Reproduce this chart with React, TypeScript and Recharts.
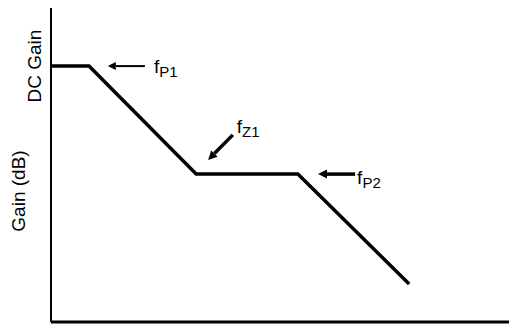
import { LineChart, Line, XAxis, YAxis, ReferenceLine } from "recharts";

// asymptotic Bode gain: x = log-frequency (arbitrary decades), y = gain (dB, arbitrary)
const freqPoints = [0, 0.83, 3.17, 5.39, 7.82];
const gainPoints = [81.5, 81.5, 47.1, 47.1, 12.1];
const DC_GAIN = 81.5;

// arrow annotations: tail -> head in chart units
const markerNames = ["P1", "Z1", "P2"];
const markerTail = [
  [2.05, 81.5],
  [3.97, 59.6],
  [6.64, 47.1],
];
const markerHead = [
  [1.24, 81.5],
  [3.43, 51.6],
  [5.83, 47.1],
];

const data = freqPoints.map((f, i) => ({ f, gain: gainPoints[i] }));

const FONT = "'Liberation Sans', Arial, sans-serif";

const labelOffset: Record<string, [number, number, number]> = {
  P1: [9, 7, 2],
  Z1: [4, -2, 3.5],
  P2: [2, 10, 3.5],
};

function Arrow(props: any) {
  const { x1, y1, x2, y2, name } = props;
  const [dx, dy, w] = labelOffset[name];
  const len = Math.hypot(x2 - x1, y2 - y1);
  const ux = (x2 - x1) / len;
  const uy = (y2 - y1) / len;
  const hl = w > 2 ? 9 : 8;
  const hw = w > 2 ? 4.5 : 4;
  const bx = x2 - ux * hl;
  const by = y2 - uy * hl;
  const pts = `${x2},${y2} ${bx - uy * hw},${by + ux * hw} ${bx + uy * hw},${by - ux * hw}`;
  return (
    <g>
      <line x1={x1} y1={y1} x2={bx} y2={by} stroke="#000" strokeWidth={w} />
      <polygon points={pts} fill="#000" />
      <text x={x1 + dx} y={y1 + dy} fontFamily={FONT} fontSize={19} fill="#000">
        <tspan>f</tspan>
        <tspan dy={4} fontSize={15}>
          {name}
        </tspan>
      </text>
    </g>
  );
}

function DcTick(props: any) {
  const { x, y } = props;
  return (
    <text
      x={x}
      y={y}
      transform={`rotate(-90, ${x}, ${y})`}
      textAnchor="middle"
      dominantBaseline="central"
      fontFamily={FONT}
      fontSize={19}
      fill="#000"
    >
      DC Gain
    </text>
  );
}

function GainLabel(props: any) {
  const { viewBox } = props;
  const x = viewBox.x + 18;
  const y = viewBox.y + 183;
  return (
    <text
      x={x}
      y={y}
      transform={`rotate(-90, ${x}, ${y})`}
      textAnchor="middle"
      dominantBaseline="central"
      fontFamily={FONT}
      fontSize={19}
      fill="#000"
    >
      Gain (dB)
    </text>
  );
}

export default function App() {
  return (
    <div style={{ position: "absolute", left: 0, top: 0, background: "#fff" }}>
      <LineChart
        width={509}
        height={325}
        data={data}
        margin={{ top: 8, right: 0, bottom: 0, left: 0 }}
      >
        <XAxis
          type="number"
          dataKey="f"
          domain={[0, 10]}
          height={3}
          tick={false}
          tickLine={false}
          axisLine={{ stroke: "#000", strokeWidth: 3 }}
        />
        <YAxis
          type="number"
          domain={[0, 100]}
          width={51}
          ticks={[DC_GAIN]}
          tick={<DcTick />}
          tickLine={false}
          tickSize={0}
          tickMargin={16}
          axisLine={{ stroke: "#000", strokeWidth: 2 }}
          label={<GainLabel />}
        />
        <Line
          dataKey="gain"
          stroke="#000"
          strokeWidth={3.5}
          dot={false}
          isAnimationActive={false}
        />
        {markerNames.map((name, i) => (
          <ReferenceLine
            key={name}
            segment={[
              { x: markerTail[i][0], y: markerTail[i][1] },
              { x: markerHead[i][0], y: markerHead[i][1] },
            ]}
            ifOverflow="visible"
            shape={(p: any) => <Arrow {...p} name={name} />}
          />
        ))}
      </LineChart>
    </div>
  );
}
